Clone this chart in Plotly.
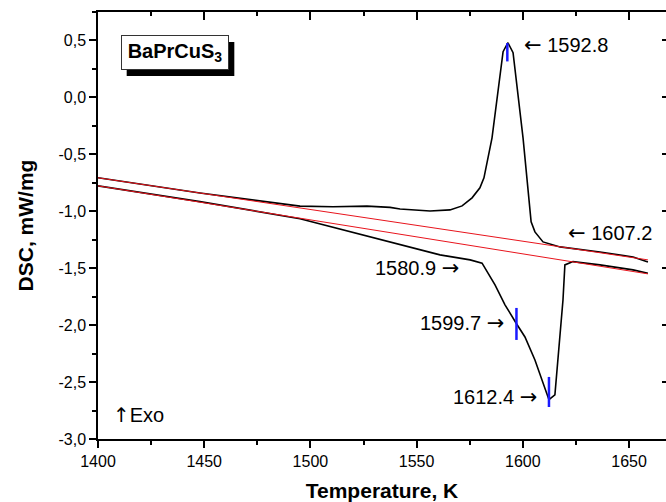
import plotly.graph_objects as go

# ---------------- data ----------------
heat_T = [1400, 1448.0, 1495.1, 1510.6, 1526.6, 1537.5, 1542.2, 1556.3, 1565.7,
          1571.4, 1576.1, 1579.8, 1581.7, 1585.5, 1590.7, 1593.0, 1595.4, 1600.1,
          1603.9, 1605.7, 1609.5, 1617.5, 1636.3, 1651.9, 1658.9]
heat_v = [-0.706, -0.840, -0.955, -0.960, -0.955, -0.966, -0.980, -0.998, -0.988,
          -0.953, -0.882, -0.794, -0.706, -0.355, 0.401, 0.480, 0.392, -0.355,
          -1.093, -1.181, -1.269, -1.313, -1.357, -1.401, -1.445]

cool_T = [1400, 1448.0, 1495.1, 1518.6, 1542.2, 1561.0, 1575.2, 1580.8, 1586.9,
          1591.6, 1596.8, 1601.0, 1605.7, 1609.5, 1612.3, 1615.1, 1618.9, 1619.8,
          1623.6, 1636.3, 1651.9, 1658.9]
cool_v = [-0.777, -0.915, -1.065, -1.180, -1.295, -1.383, -1.427, -1.456, -1.647,
          -1.822, -1.981, -2.104, -2.306, -2.508, -2.655, -2.613, -1.779, -1.471,
          -1.442, -1.471, -1.515, -1.544]

base1_T = [1400, 1658.9]
base1_v = [-0.706, -1.427]
base2_T = [1400, 1658.9]
base2_v = [-0.777, -1.550]

mark_T = [1592.7, 1597.0, 1612.3]
mark_top = [0.477, -1.849, -2.455]
mark_bot = [0.316, -2.130, -2.719]

y_tick_vals = [-3.0, -2.5, -2.0, -1.5, -1.0, -0.5, 0.0, 0.5]
y_tick_text = ["-3,0", "-2,5", "-2,0", "-1,5", "-1,0", "-0,5", "0,0", "0,5"]
x_tick_vals = [1400, 1450, 1500, 1550, 1600, 1650]
x_tick_text = ["1400", "1450", "1500", "1550", "1600", "1650"]

LA = '<span style="font-family:DejaVu Sans;font-size:21px">\u2190</span>'
RA = '<span style="font-family:DejaVu Sans;font-size:21px">\u2192</span>'
UA = '<span style="font-family:DejaVu Sans">\u2191</span>'
labels = [  # (text, T, v, anchor)
    (LA + " 1592.8", 1599.8, 0.462, "left"),
    (LA + " 1607.2", 1620.3, -1.19, "left"),
    ("1580.9 " + RA, 1570.8, -1.497, "right"),
    ("1599.7 " + RA, 1592.0, -1.981, "right"),
    ("1612.4 " + RA, 1607.6, -2.631, "right"),
    (UA + "Exo", 1406.0, -2.789, "left"),
]

X_RANGE = [1400, 1667.4]
Y_RANGE = [-3.0, 0.75]
FONT = "Liberation Sans, Arial, sans-serif"

# ---------------- figure ----------------
fig = go.Figure()
fig.add_trace(go.Scatter(x=heat_T, y=heat_v, mode="lines",
                         line=dict(color="black", width=1.6), showlegend=False))
fig.add_trace(go.Scatter(x=cool_T, y=cool_v, mode="lines",
                         line=dict(color="black", width=1.6), showlegend=False))
fig.add_trace(go.Scatter(x=base1_T, y=base1_v, mode="lines",
                         line=dict(color="#e8141c", width=1), showlegend=False))
fig.add_trace(go.Scatter(x=base2_T, y=base2_v, mode="lines",
                         line=dict(color="#e8141c", width=1), showlegend=False))

mx, my = [], []
for t, a, b in zip(mark_T, mark_top, mark_bot):
    mx += [t, t, None]
    my += [a, b, None]
fig.add_trace(go.Scatter(x=mx, y=my, mode="lines",
                         line=dict(color="#1a1aff", width=2.5), showlegend=False))

for txt, t, v, anc in labels:
    fig.add_annotation(x=t, y=v, xref="x", yref="y", text=txt, showarrow=False,
                       xanchor=anc, yanchor="middle",
                       font=dict(family=FONT, size=20, color="black"))

# sample label box with shadow
fig.add_shape(type="rect", xref="paper", yref="paper",
              x0=0.0505, x1=0.240, y0=0.850, y1=0.930,
              fillcolor="black", line=dict(width=0), layer="above")
fig.add_annotation(x=0.1347, y=0.905, xref="paper", yref="paper",
                   text="<b>BaPrCuS<sub>3</sub></b>", showarrow=False,
                   xanchor="center", yanchor="middle",
                   width=104, height=31, borderpad=1,
                   bgcolor="white", bordercolor="#333333", borderwidth=1,
                   font=dict(family=FONT, size=20, color="black"))

fig.update_layout(
    width=666, height=502,
    margin=dict(l=98, r=0, t=12, b=63),
    paper_bgcolor="white", plot_bgcolor="white",
    font=dict(family=FONT, size=16, color="black"),
    xaxis=dict(range=X_RANGE, tickmode="array", tickvals=x_tick_vals,
               ticktext=x_tick_text, ticks="outside", ticklen=7, tickwidth=1.5,
               tickcolor="black", showline=True, linecolor="black", linewidth=1.5,
               showgrid=False, zeroline=False,
               minor=dict(tickmode="linear", tick0=1400, dtick=25, ticks="outside",
                          ticklen=4, tickwidth=1.5, tickcolor="black", showgrid=False),
               title=dict(text="<b>Temperature, K</b>", font=dict(size=21), standoff=14),
               tickfont=dict(size=16)),
    yaxis=dict(range=Y_RANGE, tickmode="array", tickvals=y_tick_vals,
               ticktext=y_tick_text, ticks="outside", ticklen=7, tickwidth=1.5,
               tickcolor="black", showline=True, linecolor="black", linewidth=1.5,
               showgrid=False, zeroline=False,
               minor=dict(tickmode="linear", tick0=0, dtick=0.25, ticks="outside",
                          ticklen=4, tickwidth=1.5, tickcolor="black", showgrid=False),
               title=dict(text="<b>DSC, mW/mg</b>", font=dict(size=21), standoff=19),
               tickfont=dict(size=16)),
    xaxis2=dict(range=X_RANGE, overlaying="x", side="top", tickmode="linear",
                tick0=1400, dtick=50, ticks="inside", ticklen=8, tickwidth=1.5,
                tickcolor="black", showticklabels=False, showline=True,
                linecolor="black", linewidth=1.5, showgrid=False, zeroline=False,
                minor=dict(tickmode="linear", tick0=1400, dtick=25, ticks="inside",
                           ticklen=4, tickwidth=1.5, tickcolor="black", showgrid=False)),
    yaxis2=dict(range=Y_RANGE, overlaying="y", side="right", tickmode="array",
                tickvals=y_tick_vals, ticks="inside", ticklen=4, tickwidth=1.5,
                tickcolor="black", showticklabels=False, showline=False,
                showgrid=False, zeroline=False),
)
# dummy trace to activate the mirrored axes
fig.add_trace(go.Scatter(x=[None], y=[None], xaxis="x2", yaxis="y2",
                         showlegend=False, hoverinfo="skip"))

fig.write_html("out.html")
